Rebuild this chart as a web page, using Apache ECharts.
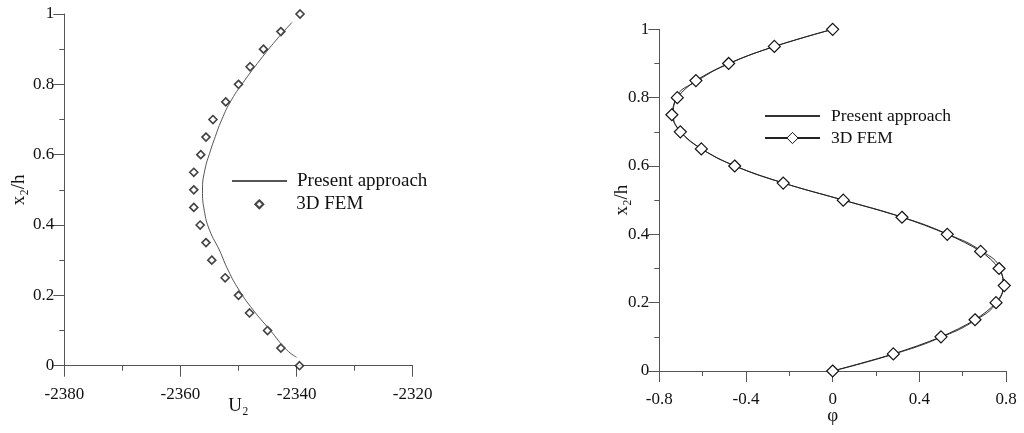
<!DOCTYPE html>
<html>
<head>
<meta charset="utf-8">
<script src="https://cdn.jsdelivr.net/npm/echarts@6/dist/echarts.min.js"></script>
<style>html,body{margin:0;padding:0;background:#fff}#c{width:1024px;height:433px}</style>
</head>
<body>
<div id="c"></div>
<script>
// ---- Data ----
// Left panel: U2 vs x2/h
const leftLineY = [0.024, 0.045, 0.102, 0.159, 0.215, 0.272, 0.329, 0.386, 0.442, 0.499, 0.556, 0.613, 0.642, 0.699, 0.756, 0.812, 0.869, 0.926, 0.976];
const leftLineU = [-2340.0, -2341.7, -2344.6, -2347.5, -2349.9, -2351.8, -2353.3, -2355.0, -2355.9, -2356.2, -2355.8, -2354.8, -2354.2, -2352.9, -2351.2, -2348.9, -2346.3, -2343.5, -2340.8];
const femY = [0, 0.05, 0.1, 0.15, 0.2, 0.25, 0.3, 0.35, 0.4, 0.45, 0.5, 0.55, 0.6, 0.65, 0.7, 0.75, 0.8, 0.85, 0.9, 0.95, 1.0];
const leftFemU = [-2339.5, -2342.7, -2345.0, -2348.1, -2350.0, -2352.3, -2354.6, -2355.6, -2356.6, -2357.7, -2357.7, -2357.7, -2356.5, -2355.6, -2354.4, -2352.2, -2350.0, -2348.0, -2345.7, -2342.7, -2339.4];
// Right panel: phi vs x2/h
const rightFemPhi = [0, 0.28, 0.5, 0.657, 0.754, 0.792, 0.768, 0.683, 0.529, 0.32, 0.049, -0.228, -0.452, -0.606, -0.703, -0.742, -0.717, -0.631, -0.48, -0.269, 0];
const rightLinePhi = [0, 0.285, 0.505, 0.662, 0.758, 0.785, 0.772, 0.69, 0.533, 0.322, 0.05, -0.226, -0.45, -0.604, -0.7, -0.735, -0.722, -0.622, -0.476, -0.266, 0];
const leftXTicks = { min: -2380, max: -2320, interval: 20 };
const rightXTicks = { min: -0.8, max: 0.8, interval: 0.4 };
const yTicks = { min: 0, max: 1, interval: 0.2 };
const names = { L_line: 'Present approach', L_fem: '3D FEM', R_line: 'Present approach', R_fem: '3D FEM' };

const zip = (xs, ys) => xs.map((x, i) => [x, ys[i]]);
const FONT = 'Liberation Serif';
const AX = '#555';
const fmt = v => String(Math.round(v * 1000) / 1000);

function xAxis(idx, t, name, nameGap, margin) {
  return {
    type: 'value', gridIndex: idx, min: t.min, max: t.max, interval: t.interval,
    name: name, nameLocation: 'middle', nameGap: nameGap, nameMoveOverlap: false,
    nameTextStyle: { fontFamily: FONT, fontSize: 19, color: '#111' },
    axisLine: { onZero: false, lineStyle: { color: AX, width: 1 } },
    axisTick: { show: true, length: 11, inside: false, lineStyle: { color: AX } },
    minorTick: { show: true, splitNumber: 2, length: 5, lineStyle: { color: AX } },
    splitLine: { show: false },
    axisLabel: { fontFamily: FONT, fontSize: 17, color: '#111', margin: margin, formatter: fmt }
  };
}
function yAxis(idx, name, nameGap) {
  return {
    type: 'value', gridIndex: idx, min: yTicks.min, max: yTicks.max, interval: yTicks.interval,
    name: name, nameLocation: 'middle', nameGap: nameGap, nameRotate: 90, nameMoveOverlap: false,
    nameTextStyle: { fontFamily: FONT, fontSize: 19, color: '#111' },
    axisLine: { onZero: false, lineStyle: { color: AX, width: 1 } },
    axisTick: { show: true, length: 11, lineStyle: { color: AX } },
    minorTick: { show: true, splitNumber: 2, length: 5, lineStyle: { color: AX } },
    splitLine: { show: false },
    axisLabel: { fontFamily: FONT, fontSize: 17, color: '#111', margin: 10, formatter: fmt }
  };
}

const chart = echarts.init(document.getElementById('c'), null, { renderer: 'canvas' });
chart.setOption({
  backgroundColor: '#fff',
  animation: false,
  grid: [
    { left: 64.3, top: 14, width: 348.4, height: 351.7 },
    { left: 659.3, top: 29.3, width: 346.7, height: 341.7 }
  ],
  xAxis: [xAxis(0, leftXTicks, 'U₂', 31, 20), xAxis(1, rightXTicks, 'φ', 36, 20)],
  yAxis: [yAxis(0, 'x₂/h', 36), yAxis(1, 'x₂/h', 28)],
  legend: [
    {
      data: [{ name: 'L_line', itemStyle: { opacity: 0 } }], left: 226, top: 166,
      itemWidth: 55, itemHeight: 8,
      formatter: n => names[n],
      textStyle: { fontFamily: FONT, fontSize: 19, color: '#111', lineHeight: 20, padding: [0, 0, 0, 5] }
    },
    {
      data: ['L_fem'], left: 249.3, top: 189.3,
      itemWidth: 8, itemHeight: 8,
      formatter: n => names[n],
      textStyle: { fontFamily: FONT, fontSize: 19, color: '#111', lineHeight: 20, padding: [0, 0, 0, 28] }
    },
    {
      data: [
        { name: 'R_line', itemStyle: { opacity: 0 } },
        { name: 'R_fem', itemStyle: { color: '#fff', borderColor: '#111', borderWidth: 1 } }
      ],
      orient: 'vertical', left: 759, top: 102,
      itemWidth: 55, itemHeight: 14, itemGap: 4,
      formatter: n => names[n],
      textStyle: { fontFamily: FONT, fontSize: 17.5, color: '#111', lineHeight: 18, padding: [0, 0, 0, 6] }
    }
  ],
  series: [
    {
      name: 'L_line', type: 'line', xAxisIndex: 0, yAxisIndex: 0, smooth: true, symbol: 'none',
      data: zip(leftLineU, leftLineY), lineStyle: { color: '#555', width: 1 }, itemStyle: { color: '#555' }
    },
    {
      name: 'L_fem', type: 'scatter', xAxisIndex: 0, yAxisIndex: 0, symbol: 'diamond', symbolSize: 8,
      data: zip(leftFemU, femY), itemStyle: { color: '#fff', borderColor: '#111', borderWidth: 1.6 }
    },
    {
      name: 'R_line', type: 'line', xAxisIndex: 1, yAxisIndex: 1, smooth: true, symbol: 'none',
      data: zip(rightLinePhi, femY), lineStyle: { color: '#333', width: 1 }, itemStyle: { color: '#333' }
    },
    {
      name: 'R_fem', type: 'line', xAxisIndex: 1, yAxisIndex: 1, smooth: 0.3, symbol: 'diamond', symbolSize: 12,
      data: zip(rightFemPhi, femY), lineStyle: { color: '#222', width: 1 },
      itemStyle: { color: '#fff', borderColor: '#111', borderWidth: 1.2 }
    }
  ]
});
</script>
</body>
</html>
